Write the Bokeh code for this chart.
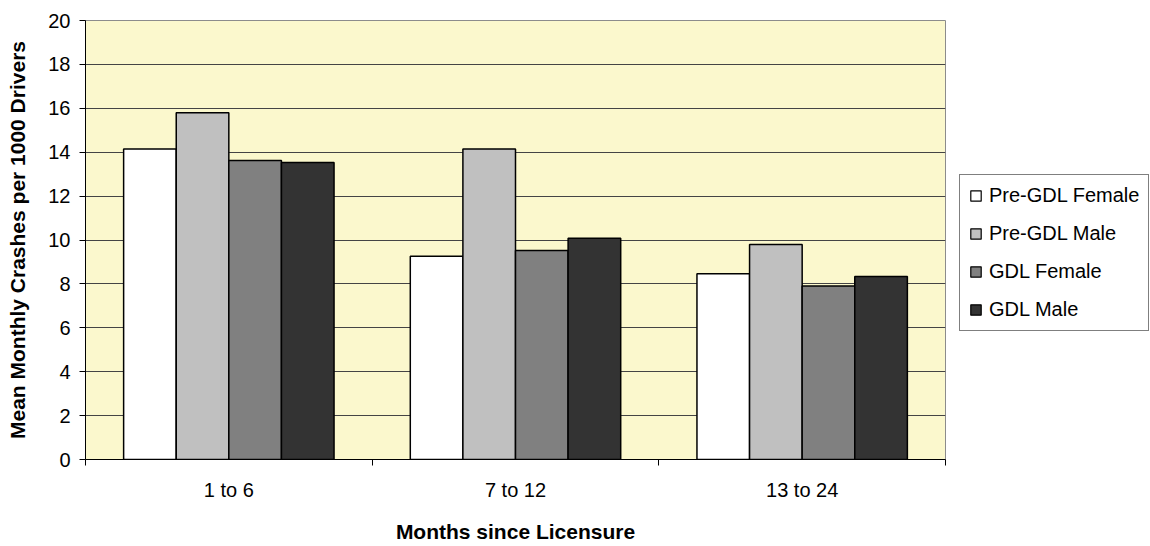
from bokeh.plotting import figure
from bokeh.layouts import row
from bokeh.models import (ColumnDataSource, Range1d, FixedTicker, Legend, LegendItem)
from bokeh.transform import dodge
from bokeh.embed import file_html
from bokeh.resources import INLINE

# ---- data ----
categories = ["1 to 6", "7 to 12", "13 to 24"]
series_names = ["Pre-GDL Female", "Pre-GDL Male", "GDL Female", "GDL Male"]
pre_gdl_female = [14.15, 9.26, 8.46]
pre_gdl_male = [15.8, 14.15, 9.8]
gdl_female = [13.62, 9.52, 7.9]
gdl_male = [13.53, 10.08, 8.34]
y_ticks = [0, 2, 4, 6, 8, 10, 12, 14, 16, 18, 20]

series_values = [pre_gdl_female, pre_gdl_male, gdl_female, gdl_male]
colors = ["#FFFFFF", "#C0C0C0", "#808080", "#333333"]

FONT = "Liberation Sans"

xs = [i + 0.5 for i in range(len(categories))]
data = {"x": xs}
for k, vals in enumerate(series_values):
    data[f"s{k}"] = vals
source = ColumnDataSource(data)

p = figure(width=946, height=546, output_backend="svg", toolbar_location=None,
           x_range=Range1d(0, len(categories)), y_range=Range1d(0, 20),
           min_border_left=85, min_border_right=1, min_border_top=20, min_border_bottom=87)

p.background_fill_color = "#FBF8CD"
p.border_fill_color = "white"
p.outline_line_color = "#8C8C8C"
p.outline_line_width = 1

bar_w = 0.1835
offsets = [-1.5 * bar_w, -0.5 * bar_w, 0.5 * bar_w, 1.5 * bar_w]
for k in range(len(series_values)):
    p.vbar(x=dodge("x", offsets[k], range=p.x_range), top=f"s{k}", width=bar_w,
           source=source, fill_color=colors[k], line_color="black", line_width=1.5)

# x axis: labels at category centres, tick marks at category boundaries
p.xaxis.ticker = FixedTicker(ticks=xs, minor_ticks=list(range(len(categories) + 1)))
p.xaxis.major_label_overrides = {x: c for x, c in zip(xs, categories)}
p.xaxis.major_tick_out = 0
p.xaxis.major_tick_in = 0
p.xaxis.minor_tick_out = 6
p.xaxis.minor_tick_in = 0
p.xaxis.minor_tick_line_color = "black"
p.xaxis.axis_line_color = "black"
p.xaxis.major_label_standoff = 13
p.xaxis.axis_label = "Months since Licensure"
p.xaxis.axis_label_standoff = 16

p.yaxis.ticker = FixedTicker(ticks=y_ticks)
p.yaxis.major_tick_out = 6
p.yaxis.major_tick_in = 0
p.yaxis.minor_tick_line_color = None
p.yaxis.axis_line_color = "black"
p.yaxis.major_tick_line_color = "black"
p.yaxis.major_label_standoff = 9
p.yaxis.axis_label = "Mean Monthly Crashes per 1000 Drivers"
p.yaxis.axis_label_standoff = 16

for ax in (p.xaxis, p.yaxis):
    ax.major_label_text_font = FONT
    ax.major_label_text_font_size = "20px"
    ax.major_label_text_color = "black"
    ax.axis_label_text_font = FONT
    ax.axis_label_text_font_size = "21px"
    ax.axis_label_text_font_style = "bold"
    ax.axis_label_text_color = "black"

p.xgrid.grid_line_color = None
p.ygrid.ticker = FixedTicker(ticks=y_ticks[1:-1])
p.ygrid.grid_line_color = "#444444"
p.ygrid.grid_line_width = 1

# ---- legend lives in a narrow companion figure on the right ----
# Its bar renderers (same data) are scaled so that they sit entirely behind the
# opaque legend box; they only supply the legend swatches.
p2 = figure(width=204, height=546, output_backend="svg", toolbar_location=None,
            x_axis_type=None, y_axis_type=None, x_range=Range1d(-0.3, len(categories) + 0.3),
            y_range=Range1d(-32.4, 47.6), min_border=0)
p2.outline_line_color = None
p2.background_fill_color = "white"
p2.border_fill_color = "white"
p2.grid.grid_line_color = None

legend_renderers = []
for k in range(len(series_names)):
    r = p2.vbar(x=dodge("x", offsets[k], range=p2.x_range), top=f"s{k}", width=bar_w,
                source=source, fill_color=colors[k], line_color="black", line_width=1.2)
    legend_renderers.append(r)

legend = Legend(items=[LegendItem(label=n, renderers=[r]) for n, r in zip(series_names, legend_renderers)],
                location=(13, 128), orientation="vertical",
                label_text_font=FONT, label_text_font_size="20px", label_text_color="black",
                glyph_width=13, glyph_height=13, label_standoff=7, label_height=22,
                padding=9, spacing=15, margin=0,
                border_line_color="black", border_line_width=1,
                background_fill_color="white", background_fill_alpha=1)
p2.add_layout(legend)

layout = row(p, p2, spacing=0)
open("out.html", "w").write(file_html(layout, INLINE))
